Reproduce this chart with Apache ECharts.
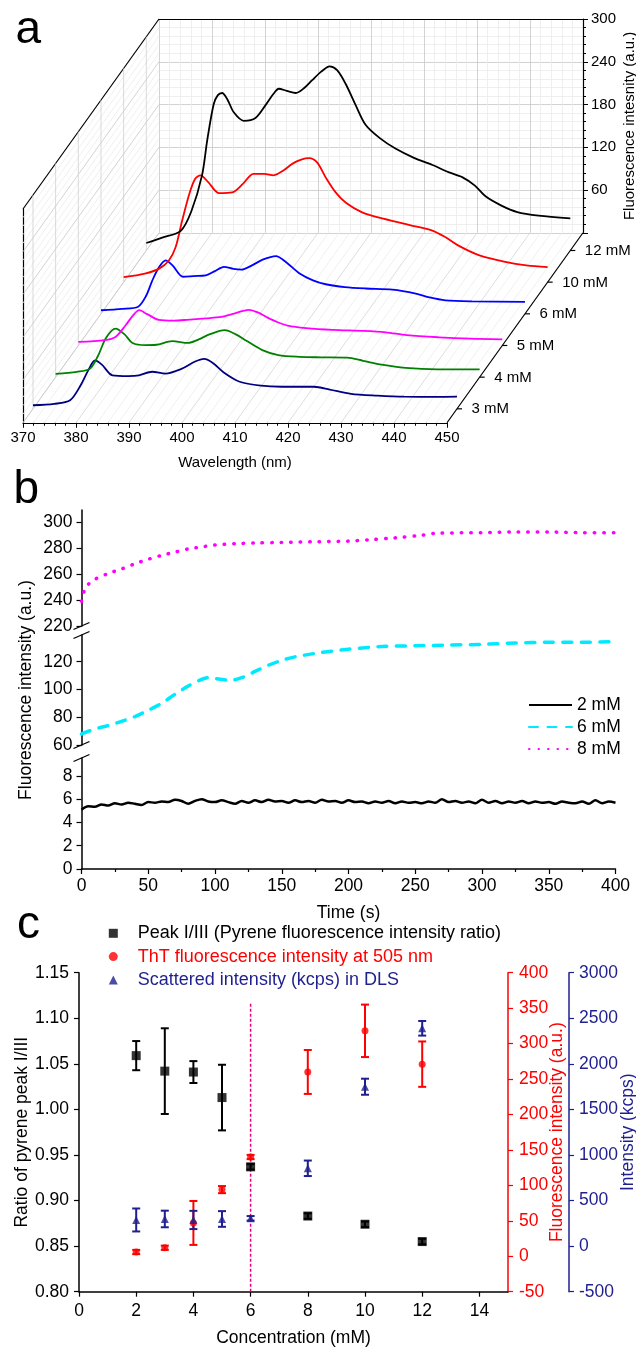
<!DOCTYPE html>
<html>
<head>
<meta charset="utf-8">
<script src="https://cdn.jsdelivr.net/npm/echarts@6.0.0/dist/echarts.min.js"></script>
<style>
  html, body { margin: 0; padding: 0; background: #fff; }
  #chart { width: 636px; height: 1347px; }
</style>
</head>
<body>
<div id="chart"></div>
<script>
const FONT = '"Liberation Sans", Arial, Helvetica, sans-serif';

// ---------- (a) emission spectra, one per concentration ----------
const spectrumLabels = ['3 mM', '4 mM', '5 mM', '6 mM', '10 mM', '12 mM'];
const spectrumColors = ['#00007f', '#008000', '#ff00ff', '#0000ff', '#ff0000', '#000000'];

const spec3mM = [[370,5],[374,7],[377,12],[379,33],[380.5,55],[381.7,68],[383,62],[385,47],[388,46],[390,47],
  [392.5,52],[395,49.5],[398,56],[400.5,66],[402.3,70],[404,64],[406,51],[409,38],[413,32.5],[417,31],
  [423,31],[426,27],[430,21],[435,18.5],[440,17],[446,16.8],[450,17]];
const spec4mM = [[370,4.5],[374,7.5],[376.5,12],[378,30],[379.5,55],[381.3,68],[383,60],[384.5,48],[387,45],
  [389,45.5],[392,50.5],[395,48],[397,53],[399,60],[401.9,66],[404,60],[406,51],[409,38],[412,31],[416,28.5],
  [420,27.8],[425,27.3],[428,23],[431.5,17.5],[436,13],[442,11],[450,11]];
const spec5mM = [[370,5],[375,7.5],[377,12],[378.9,28],[380.3,42],[381.5,49.5],[383,44],[385.2,36],[388,35],
  [390.5,36],[394,38],[397,40],[399,44],[402.2,50],[404,46],[405.5,40],[407.5,33],[409.5,28],[413,24.5],
  [418,22],[424,20.5],[428,18.5],[432,14.5],[438,11.5],[444,9.5],[450,8.5]];
const spec6mM = [[370,5],[374,7],[377,10],[378.5,25],[379.7,47],[381,66],[382.2,75],[383.5,68],[385.5,52],
  [387.5,53],[389.8,54],[391.5,60],[393.2,66],[395,63],[396.5,62],[398.5,68],[400.5,76],[403,81],[405,72],
  [407.4,57],[410,47],[412.4,41.5],[416,37.5],[420,35.5],[425,34],[429.4,28.5],[432,23],[435,19],[440,17.5],[450,16.7]];
const spec10mM = [[370,7],[374,12],[376.7,19],[378.5,30],[379.8,49],[381,85],[382.4,124],[383.5,145],[384.5,150],
  [386,140],[388,125],[390.5,126],[392.5,138],[394.5,152],[396.5,152],[398.3,150],[400,156],[401.8,166],
  [403.5,172],[405,174],[406.5,168],[408.2,146],[410,126],[412,111],[415,98],[419,89],[424,80],[428,73],
  [430.5,64],[433,52],[437,38],[442,28.5],[446,23.5],[450,21]];
const spec12mM = [[370,10.5],[373,18],[376.5,27.5],[378.5,55],[380.5,105],[381.5,155],[382.7,205],[383.5,218],
  [384.3,221],[385.3,212],[386.5,194],[388.4,182],[390.6,186],[392.5,204],[394,220],[395,227],[396.5,224],
  [398.2,221],[399.8,228],[401.3,239],[403,251],[404.6,258.5],[406,253],[407.6,234],[409.5,204],[411.4,176],
  [414,158],[417,143],[420.5,130],[424,120],[427,110],[429.6,103],[432,91],[434,76],[437,63],[440,54],
  [444,49],[450,45]];
const spectra = [spec3mM, spec4mM, spec5mM, spec6mM, spec10mM, spec12mM];

// ---------- (b) fluorescence time courses ----------
const trace2mM = [
  [0,5.1],[5,5.4],[10,5.35],[15,5.55],[20,5.45],[25,5.65],[30,5.55],[35,5.7],[40,5.6],[45,5.5],
  [50,5.75],[55,5.7],[60,5.8],[65,5.75],[70,5.95],[75,5.85],[80,5.6],[85,5.85],[90,6.0],[95,5.8],
  [100,5.75],[105,5.9],[110,5.75],[115,5.6],[120,5.85],[125,5.7],[130,5.9],[135,5.75],[140,5.95],[145,5.8],
  [150,5.85],[155,5.7],[160,5.9],[165,5.75],[170,5.85],[175,5.7],[180,5.95],[185,5.8],[190,5.85],[195,5.7],
  [200,5.9],[205,5.75],[210,5.8],[215,5.65],[220,5.8],[225,5.7],[230,5.85],[235,5.65],[240,5.8],[245,5.7],
  [250,5.75],[255,5.65],[260,5.8],[265,5.7],[270,6.0],[275,5.75],[280,5.85],[285,5.7],[290,5.8],[295,5.65],
  [300,5.95],[305,5.7],[310,5.85],[315,5.65],[320,5.8],[325,5.7],[330,5.85],[335,5.65],[340,5.8],[345,5.7],
  [350,5.75],[355,5.6],[360,5.8],[365,5.7],[370,5.65],[375,5.8],[380,5.6],[385,5.9],[390,5.65],[395,5.8],[400,5.7]];
const trace6mM = [[0,68],[10,71.5],[20,74],[30,77],[40,80.5],[50,85],[60,90],[70,96.5],[80,102.5],[88,106.5],
  [95,108.5],[103,107.5],[111,106.5],[120,108.5],[130,113],[140,117.5],[150,121],[160,123.5],[175,126],
  [200,129],[225,131],[250,131.5],[275,132],[300,132.5],[325,133.5],[350,134],[375,134],[400,134.5]];
const trace8mM = [[0,239],[2,247],[5,252],[10,256],[20,260.5],[30,264],[40,268],[50,271.5],[60,274.5],[70,277],
  [80,279.5],[90,281],[100,282.5],[115,283.5],[130,284],[150,284.5],[175,285],[200,285.5],[215,286.5],
  [235,288],[255,290],[265,291.5],[300,292],[325,292.5],[350,292.5],[375,292],[400,292]];
const ticksUpperB = [220, 240, 260, 280, 300];
const ticksMiddleB = [60, 80, 100, 120];
const ticksLowerB = [0, 2, 4, 6, 8];

// ---------- (c) concentration dependence ----------
const concentrations = [2, 3, 4, 5, 6, 8, 10, 12];
const peakRatio    = [1.059, 1.042, 1.041, 1.013, 0.937, 0.883, 0.874, 0.855];
const peakRatioErr = [0.016, 0.047, 0.012, 0.036, 0.003, 0.003, 0.003, 0.003];
const thtIntensity = [6, 12, 47, 94, 140, 260, 318, 271];
const thtErr       = [3, 3, 31, 5, 3, 31, 37, 32];
const dlsIntensity = [287, 298, 287, 298, 305, 854, 1749, 2390];
const dlsErr       = [126, 91, 100, 86, 25, 85, 88, 80];
const cmcMarker    = [[6, 0.80], [6, 1.118]];
const concTicksC   = [0, 2, 4, 6, 8, 10, 12, 14];
const legendC = [
  { name: 'Peak I/III (Pyrene fluorescence intensity ratio)', icon: 'rect', color: '#000000' },
  { name: 'ThT fluorescence intensity at 505 nm', icon: 'circle', color: '#ff0000' },
  { name: 'Scattered intensity (kcps) in DLS', icon: 'triangle', color: '#1f1f8f' }
];

// ---------- layout ----------
const BOX = { left: 23, top: 209, width: 424, height: 213.75 };   // front face of the 3D box
const DEPTH = { dx: 136, dy: -190 };                               // projection of the depth direction
const depthFrac = i => (i + 0.44) / spectrumLabels.length;
const NAVY = '#1f1f8f';

const grid = [], xAxis = [], yAxis = [], series = [];
const addGrid = g => { grid.push(Object.assign({ outerBoundsMode: 'none', containLabel: false }, g)); return grid.length - 1; };
const addX = a => { xAxis.push(Object.assign({ nameMoveOverlap: false }, a)); return xAxis.length - 1; };
const addY = a => { yAxis.push(Object.assign({ nameMoveOverlap: false }, a)); return yAxis.length - 1; };
const txt = (size, color) => ({ fontSize: size, fontFamily: FONT, color: color || '#000' });
const lineOf = (color, w) => ({ show: true, onZero: false, lineStyle: { color, width: w } });
const black = (w) => lineOf('#000', w || 1.2);
const hidden = { show: false };
const plain = v => String(v);

// ----- panel a: back wall -----
const gBack = addGrid({ left: BOX.left + DEPTH.dx, top: BOX.top + DEPTH.dy, width: BOX.width, height: BOX.height });
addX({ gridIndex: gBack, type: 'value', min: 370, max: 450, interval: 10, position: 'top',
  axisLine: black(1.2), axisTick: hidden, axisLabel: hidden,
  splitLine: { show: true, lineStyle: { color: '#c8c8c8', width: 0.8 } },
  minorTick: { show: false, splitNumber: 5 },
  minorSplitLine: { show: true, lineStyle: { color: '#ebebeb', width: 0.8 } } });
addY({ gridIndex: gBack, type: 'value', min: 0, max: 300, interval: 60, position: 'right',
  axisLine: black(1.2), axisTick: { show: true, length: 5, lineStyle: { color: '#000' } },
  minorTick: { show: true, splitNumber: 5, length: 3, lineStyle: { color: '#000' } },
  axisLabel: Object.assign({ margin: 8, formatter: v => (v === 0 ? '' : String(v)) }, txt(15)),
  splitLine: { show: true, lineStyle: { color: '#c8c8c8', width: 0.8 } },
  minorSplitLine: { show: true, lineStyle: { color: '#ebebeb', width: 0.8 } },
  name: 'Fluorescence intesnity (a.u.)', nameLocation: 'middle', nameRotate: 90, nameGap: 39.5,
  nameTextStyle: txt(15) });

// ----- panel a: front face (wavelength axis) -----
const gFront = addGrid({ left: BOX.left, top: BOX.top, width: BOX.width, height: BOX.height });
const xFront = addX({ gridIndex: gFront, type: 'value', min: 370, max: 450, interval: 10,
  axisLine: black(1.2), axisTick: { show: true, length: 5, lineStyle: { color: '#000' } },
  minorTick: { show: true, splitNumber: 5, length: 3, lineStyle: { color: '#000' } },
  axisLabel: Object.assign({ margin: 8 }, txt(15)), splitLine: hidden,
  name: 'Wavelength (nm)', nameLocation: 'middle', nameGap: 33, nameTextStyle: txt(15) });
const yFront = addY({ gridIndex: gFront, type: 'value', min: 0, max: 300,
  axisLine: black(1.2), axisTick: hidden, axisLabel: hidden, splitLine: hidden });

// oblique floor lines (one per wavelength gridline)
const floorLines = [];
for (let w = 370; w <= 450; w += 2) floorLines.push([w, 0]);
// oblique side-wall lines (one per intensity gridline)
const wallLines = [];
for (let v = 0; v <= 300; v += 12) wallLines.push([370, v]);

const obliqueFrom = (p, stroke, width) => ({
  type: 'line', silent: true,
  shape: { x1: p[0], y1: p[1], x2: p[0] + DEPTH.dx, y2: p[1] + DEPTH.dy },
  style: { stroke, lineWidth: width }
});

series.push({ type: 'custom', xAxisIndex: xFront, yAxisIndex: yFront, silent: true, z: 1,
  data: floorLines, encode: { x: 0, y: 1 },
  renderItem: (p, api) => {
    const w = api.value(0);
    return obliqueFrom(api.coord([w, 0]), w % 10 === 0 ? '#d4d4d4' : '#ececec', 0.8);
  } });
series.push({ type: 'custom', xAxisIndex: xFront, yAxisIndex: yFront, silent: true, z: 1,
  data: wallLines, encode: { x: 0, y: 1 },
  renderItem: (p, api) => {
    const v = api.value(1);
    if (v === 300) return obliqueFrom(api.coord([370, v]), '#000', 1.2);
    return obliqueFrom(api.coord([370, v]), v % 60 === 0 ? '#c8c8c8' : '#ebebeb', 0.8);
  } });
// side-wall verticals at each depth position
series.push({ type: 'custom', xAxisIndex: xFront, yAxisIndex: yFront, silent: true, z: 1,
  data: spectrumLabels.map(() => [370, 0]), encode: { x: 0, y: 1 },
  renderItem: (p, api) => {
    const f = depthFrac(p.dataIndex);
    const a = api.coord([370, 0]), b = api.coord([370, 300]);
    return { type: 'line', silent: true,
      shape: { x1: a[0] + f * DEPTH.dx, y1: a[1] + f * DEPTH.dy, x2: b[0] + f * DEPTH.dx, y2: b[1] + f * DEPTH.dy },
      style: { stroke: '#cfcfcf', lineWidth: 0.8 } };
  } });
// depth axis with concentration ticks and labels
series.push({ type: 'custom', xAxisIndex: xFront, yAxisIndex: yFront, silent: true, z: 4,
  data: [[450, 0]], encode: { x: 0, y: 1 },
  renderItem: (p, api) => obliqueFrom(api.coord([450, 0]), '#000', 1.2) });
series.push({ type: 'custom', xAxisIndex: xFront, yAxisIndex: yFront, silent: true, z: 4,
  data: spectrumLabels.map(() => [450, 0]), encode: { x: 0, y: 1 },
  renderItem: (p, api) => {
    const f = depthFrac(p.dataIndex);
    const a = api.coord([450, 0]);
    const x = a[0] + f * DEPTH.dx, y = a[1] + f * DEPTH.dy;
    return { type: 'group', children: [
      { type: 'line', shape: { x1: x, y1: y, x2: x + 5, y2: y }, style: { stroke: '#000', lineWidth: 1.2 } },
      { type: 'text', x: x + 14.5, y: y + 0.5,
        style: { text: spectrumLabels[p.dataIndex], fontSize: 15, fontFamily: FONT, fill: '#000',
                 align: 'left', verticalAlign: 'middle' } }
    ] };
  } });

// one hidden cartesian system per depth slice
spectra.forEach((data, i) => {
  const f = depthFrac(i);
  const g = addGrid({ left: BOX.left + f * DEPTH.dx, top: BOX.top + f * DEPTH.dy, width: BOX.width, height: BOX.height });
  const xi = addX({ gridIndex: g, type: 'value', min: 370, max: 450, show: false });
  const yi = addY({ gridIndex: g, type: 'value', min: 0, max: 300, show: false });
  series.push({ name: spectrumLabels[i] + ' spectrum', type: 'line', xAxisIndex: xi, yAxisIndex: yi,
    data, smooth: 0.3, symbol: 'none', z: 3,
    lineStyle: { color: spectrumColors[i], width: 1.8 } });
});

// ----- panel b: broken intensity axis, three stacked segments -----
const PB = { left: 81.5, width: 534 };
const segB = [
  { top: 510, height: 116, min: 220, max: 309.5, ticks: ticksUpperB, data: trace8mM },
  { top: 635, height: 110, min: 60, max: 139.25, ticks: ticksMiddleB, data: trace6mM },
  { top: 758, height: 111, min: 0, max: 9.54, ticks: ticksLowerB, data: trace2mM }
];
const styleB = [
  { name: '8 mM', lineStyle: { color: '#ff00ff', width: 3.5, type: [0.5, 9], cap: 'round' } },
  { name: '6 mM', lineStyle: { color: '#00eaff', width: 3.5, type: [9, 9.5], cap: 'round' } },
  { name: '2 mM', lineStyle: { color: '#000000', width: 2.5 } }
];
segB.forEach((s, k) => {
  const g = addGrid({ left: PB.left, width: PB.width, top: s.top, height: s.height });
  const isLast = k === segB.length - 1;
  const xi = addX(isLast ? {
    gridIndex: g, type: 'value', min: 0, max: 400, interval: 50,
    axisLine: black(1.5), axisTick: { show: true, length: 5, lineStyle: { color: '#000', width: 1.2 } },
    minorTick: { show: true, splitNumber: 2, length: 3, lineStyle: { color: '#000', width: 1.2 } },
    axisLabel: Object.assign({ margin: 8 }, txt(17.5)), splitLine: hidden,
    name: 'Time (s)', nameLocation: 'middle', nameGap: 35, nameTextStyle: txt(17.5)
  } : { gridIndex: g, type: 'value', min: 0, max: 400, show: false });
  const yi = addY(Object.assign({
    gridIndex: g, type: 'value', min: s.min, max: s.max, interval: s.ticks[1] - s.ticks[0],
    axisLine: black(1.5),
    axisTick: { show: true, length: 5, customValues: s.ticks, lineStyle: { color: '#000', width: 1.2 } },
    axisLabel: Object.assign({ margin: 9, customValues: s.ticks }, txt(17.5)),
    splitLine: hidden
  }, k === 1 ? { name: 'Fluorescence intensity (a.u.)', nameLocation: 'middle', nameGap: 46.5,
                 nameTextStyle: txt(17.5) } : {}));
  series.push(Object.assign({ type: 'line', xAxisIndex: xi, yAxisIndex: yi, data: s.data,
    smooth: 0.3, symbol: 'none', z: 3 }, styleB[k]));
});

// ----- panel c: three y scales on one grid -----
const gC = addGrid({ left: 79, top: 972.7, width: 429, height: 319 });
const xC = addX({ gridIndex: gC, type: 'value', min: 0, max: 15, interval: 2,
  axisLine: black(1.5),
  axisTick: { show: true, length: 5, customValues: concTicksC, lineStyle: { color: '#000', width: 1.2 } },
  axisLabel: Object.assign({ margin: 10, customValues: concTicksC }, txt(17.5)), splitLine: hidden,
  name: 'Concentration (mM)', nameLocation: 'middle', nameGap: 37.5, nameTextStyle: txt(17.5) });
const yRatio = addY({ gridIndex: gC, type: 'value', min: 0.8, max: 1.15, interval: 0.05,
  axisLine: black(1.5), axisTick: { show: true, length: 5, lineStyle: { color: '#000', width: 1.2 } },
  axisLabel: Object.assign({ margin: 10, formatter: v => v.toFixed(2) }, txt(17.5)), splitLine: hidden,
  name: 'Ratio of pyrene peak I/III', nameLocation: 'middle', nameGap: 48, nameTextStyle: txt(17.5) });
const yTht = addY({ gridIndex: gC, type: 'value', min: -50, max: 400, interval: 50, position: 'right',
  axisLine: lineOf('#ff0000', 1.5),
  axisTick: { show: true, length: 5, lineStyle: { color: '#ff0000', width: 1.2 } },
  axisLabel: Object.assign({ margin: 11, formatter: plain }, txt(17.5, '#ff0000')), splitLine: hidden,
  name: 'Fluorescence intensity (a.u.)', nameLocation: 'middle', nameRotate: 90, nameGap: 40,
  nameTextStyle: txt(17.5, '#ff0000') });
const yDls = addY({ gridIndex: gC, type: 'value', min: -500, max: 3000, interval: 500, position: 'right', offset: 61,
  axisLine: lineOf(NAVY, 1.5),
  axisTick: { show: true, length: 5, lineStyle: { color: NAVY, width: 1.2 } },
  axisLabel: Object.assign({ margin: 10, formatter: plain }, txt(17.5, NAVY)), splitLine: hidden,
  name: 'Intensity (kcps)', nameLocation: 'middle', nameRotate: 90, nameGap: 50,
  nameTextStyle: txt(17.5, NAVY) });

const errorBars = (color) => (p, api) => {
  const x = api.value(0);
  const top = api.coord([x, api.value(2)]);
  const bot = api.coord([x, api.value(1)]);
  const cap = 4;
  const st = { stroke: color, lineWidth: 2 };
  return { type: 'group', children: [
    { type: 'line', shape: { x1: top[0], y1: top[1], x2: bot[0], y2: bot[1] }, style: st },
    { type: 'line', shape: { x1: top[0] - cap, y1: top[1], x2: top[0] + cap, y2: top[1] }, style: st },
    { type: 'line', shape: { x1: bot[0] - cap, y1: bot[1], x2: bot[0] + cap, y2: bot[1] }, style: st }
  ] };
};
const withErr = (vals, errs) => concentrations.map((c, i) => [c, vals[i] - errs[i], vals[i] + errs[i]]);
const points = vals => concentrations.map((c, i) => [c, vals[i]]);

series.push({ type: 'line', xAxisIndex: xC, yAxisIndex: yRatio, data: cmcMarker, symbol: 'none', silent: true, z: 2,
  lineStyle: { color: '#e6007e', width: 1.5, type: [3, 2] } });
[
  { y: yRatio, vals: peakRatio, errs: peakRatioErr, color: '#000000', symbol: 'rect', size: 9, item: legendC[0] },
  { y: yTht, vals: thtIntensity, errs: thtErr, color: '#ff0000', symbol: 'circle', size: 7, item: legendC[1] },
  { y: yDls, vals: dlsIntensity, errs: dlsErr, color: NAVY, symbol: 'triangle', size: 8, item: legendC[2] }
].forEach(s => {
  series.push({ type: 'custom', xAxisIndex: xC, yAxisIndex: s.y, silent: true, z: 3,
    data: withErr(s.vals, s.errs), encode: { x: 0, y: [1, 2] }, renderItem: errorBars(s.color) });
  series.push({ name: s.item.name, type: 'scatter', xAxisIndex: xC, yAxisIndex: s.y, z: 4,
    data: points(s.vals), symbol: s.symbol, symbolSize: s.size, itemStyle: { color: s.color } });
});

// ----- break marks on the panel b axis -----
const breakMarks = [];
[segB[0].top + segB[0].height, segB[1].top, segB[1].top + segB[1].height, segB[2].top].forEach(y => {
  breakMarks.push({ type: 'line', shape: { x1: PB.left - 8, y1: y + 3.5, x2: PB.left + 8, y2: y - 3.5 },
    style: { stroke: '#000', lineWidth: 1.3 } });
});

const panelLetter = (t, x, y) => ({ type: 'text', x, y,
  style: { text: t, fontSize: 46, fontFamily: FONT, fill: '#000', verticalAlign: 'middle' } });

const chart = echarts.init(document.getElementById('chart'), null, { renderer: 'canvas' });
chart.setOption({
  animation: false,
  backgroundColor: '#fff',
  grid, xAxis, yAxis, series,
  legend: [
    { data: ['2 mM', '6 mM', '8 mM'], orient: 'vertical', left: 528, top: 696, padding: 0,
      itemWidth: 43, itemHeight: 14, itemGap: 4, selectedMode: false,
      itemStyle: { color: 'rgba(0,0,0,0)', borderWidth: 0, opacity: 0 },
      textStyle: Object.assign({ lineHeight: 18 }, txt(17.5)) },
    { data: legendC.map(d => ({ name: d.name, icon: d.icon, textStyle: { color: d.color } })),
      orient: 'vertical', left: 108.8, top: 924.3, padding: 0, itemWidth: 9, itemHeight: 9, itemGap: 5.3,
      selectedMode: false,
      textStyle: Object.assign({ lineHeight: 18, padding: [0, 0, 0, 15] }, txt(18)) }
  ],
  graphic: { elements: [
    panelLetter('a', 15.5, 30), panelLetter('b', 13.5, 490), panelLetter('c', 17, 925)
  ].concat(breakMarks) }
});
</script>
</body>
</html>
